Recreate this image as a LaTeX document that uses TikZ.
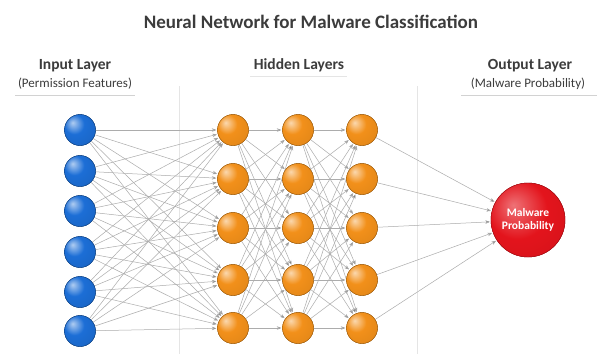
\documentclass[tikz,border=0pt]{standalone}
\usepackage{fontspec}
\setmainfont{Carlito}
\usetikzlibrary{arrows.meta}
\definecolor{inblue}{HTML}{1C6ED6}
\definecolor{hidorange}{HTML}{F2901A}
\definecolor{outred}{HTML}{E3141C}
\definecolor{titlegray}{HTML}{3C3C3C}
\pgfdeclareradialshading{blueball}{\pgfpoint{-12bp}{12bp}}{color(0bp)=(inblue!35!white); color(16bp)=(inblue); color(42bp)=(inblue!90!black); color(68bp)=(inblue!70!black)}
\pgfdeclareradialshading{orangeball}{\pgfpoint{-12bp}{12bp}}{color(0bp)=(hidorange!35!white); color(16bp)=(hidorange); color(42bp)=(hidorange!92!black); color(68bp)=(hidorange!75!black)}
\pgfdeclareradialshading{redball}{\pgfpoint{-10bp}{10bp}}{color(0bp)=(outred!60!white); color(20bp)=(outred); color(45bp)=(outred!92!black); color(68bp)=(outred!75!black)}
\tikzset{
  inneuron/.style={circle, minimum size=31pt, inner sep=0pt, shading=blueball, draw=inblue!60!black, line width=0.4pt},
  hidneuron/.style={circle, minimum size=31pt, inner sep=0pt, shading=orangeball, draw=hidorange!65!black, line width=0.4pt},
  outneuron/.style={circle, minimum size=74pt, inner sep=0pt, shading=redball, draw=outred!70!black, line width=0.4pt, text=white, font=\fontsize{11.5}{13}\bfseries\selectfont, align=center},
  conn/.style={draw=gray!65, line width=0.5pt, -{Stealth[length=4.5pt,width=3.5pt,fill=gray!20!black]}, shorten >=1pt},
  layerlabel/.style={font=\fontsize{15.5}{17}\bfseries\selectfont, text=titlegray},
  sublabel/.style={font=\fontsize{13}{15}\selectfont, text=titlegray},
  divider/.style={draw=gray!20, line width=0.6pt},
  uline/.style={draw=gray!35, line width=0.7pt}
}
\begin{document}
\begin{tikzpicture}[x=1pt,y=-1pt]
\useasboundingbox[fill=white] (0,0) rectangle (607,354);
% title
\node[font=\fontsize{19}{21}\bfseries\selectfont, text=titlegray] (title) at (311,22) {Neural Network for Malware Classification};
% labels
\node[layerlabel] (inlab) at (75,66) {Input Layer};
\node[sublabel] (insub) at (75,84) {(Permission Features)};
\node[layerlabel] (hidlab) at (299,65) {Hidden Layers};
\node[layerlabel] (outlab) at (530,66) {Output Layer};
\node[sublabel] (outsub) at (528,84) {(Malware Probability)};
\coordinate (u1a) at (15,95); \coordinate (u1b) at (135,95);
\coordinate (u2a) at (250,76); \coordinate (u2b) at (347,76);
\coordinate (u3a) at (461,95); \coordinate (u3b) at (597,95);
\draw[uline] (u1a) -- (u1b);
\draw[uline, gray!20] (u2a) -- (u2b);
\draw[uline] (u3a) -- (u3b);
% dividers
\coordinate (d1a) at (179,86); \coordinate (d1b) at (179,354);
\coordinate (d2a) at (417,86); \coordinate (d2b) at (417,354);
\draw[divider] (d1a) -- (d1b);
\draw[divider] (d2a) -- (d2b);
% nodes (positions)
\foreach \i/\y in {1/130,2/171,3/211,4/252,5/292,6/331}
  \coordinate (pi\i) at (80,\y);
\foreach \j/\y in {1/130,2/179,3/228,4/280,5/328}{
  \coordinate (pa\j) at (233,\y);
  \coordinate (pb\j) at (298,\y);
  \coordinate (pc\j) at (362,\y);
}
\foreach \i in {1,...,6}
  \node[inneuron] (i\i) at (pi\i) {};
\foreach \j in {1,...,5}{
  \node[hidneuron] (a\j) at (pa\j) {};
  \node[hidneuron] (b\j) at (pb\j) {};
  \node[hidneuron] (c\j) at (pc\j) {};
}
\node[outneuron] (out) at (528,220) {Malware\\Probability};
% connections
\foreach \i in {1,...,6}
  \foreach \j in {1,...,5}
    \draw[conn] (i\i) -- (a\j);
\foreach \i in {1,...,5}
  \foreach \j in {1,...,5}{
    \draw[conn] (a\i) -- (b\j);
    \draw[conn] (b\i) -- (c\j);
  }
\foreach \j in {1,...,5}
  \draw[conn] (c\j) -- (out);
% redraw nodes on top of connectors
\foreach \i in {1,...,6}
  \node[inneuron] at (pi\i) {};
\foreach \j in {1,...,5}{
  \node[hidneuron] at (pa\j) {};
  \node[hidneuron] at (pb\j) {};
  \node[hidneuron] at (pc\j) {};
}
\node[outneuron] at (528,220) {Malware\\Probability};
\end{tikzpicture}
\end{document}
